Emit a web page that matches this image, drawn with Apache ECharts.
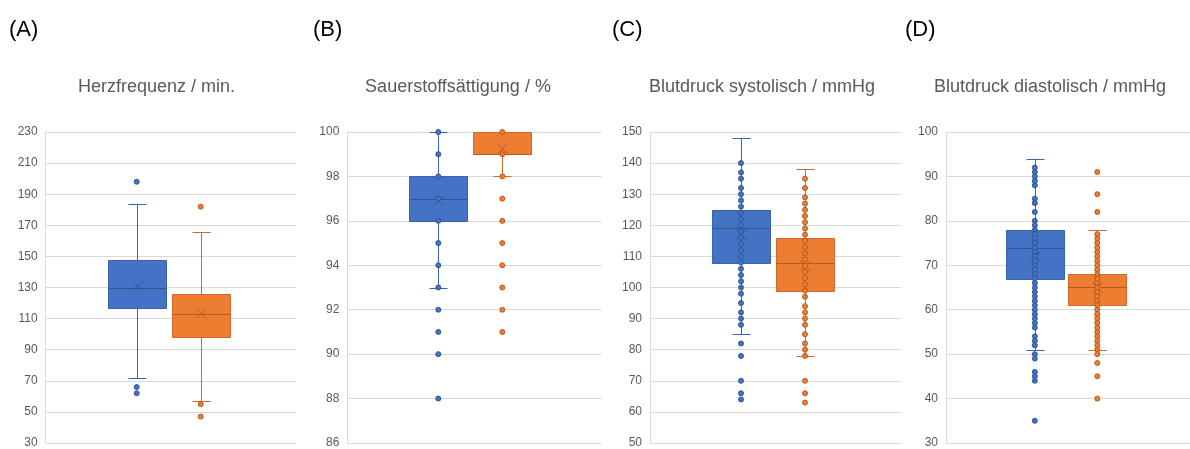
<!DOCTYPE html>
<html><head><meta charset="utf-8">
<script src="https://cdn.jsdelivr.net/npm/echarts@6/dist/echarts.min.js"></script>
<style>html,body{margin:0;padding:0;background:#fff}#c{width:1190px;height:449px}</style>
</head><body><div id="c"></div><script>
// ---------- Data ----------
// Box order: [min (lower whisker), Q1, median, Q3, max (upper whisker)]
// (A) Herzfrequenz / min.
const hrBlueBox = [72, 117, 130, 148, 184];
const hrBlueMean = 131;
const hrBluePoints = [198, 66, 62];
const hrOrangeBox = [57, 98, 113, 126, 166];
const hrOrangeMean = 113;
const hrOrangePoints = [182, 55, 47];
const hrAxis = [30, 230, 20];

// (B) Sauerstoffsättigung / %
const spoBlueBox = [93, 96, 97, 98, 100];
const spoBlueMean = 96.9;
const spoBluePoints = [100, 99, 98, 97, 96, 95, 94, 93, 92, 91, 90, 88];
const spoOrangeBox = [98, 99, 99, 100, 100];
const spoOrangeMean = 99.25;
const spoOrangePoints = [100, 99, 98, 97, 96, 95, 94, 93, 92, 91];
const spoAxis = [86, 100, 2];

// (C) Blutdruck systolisch / mmHg
const sysBlueBox = [85, 108, 119, 125, 148];
const sysBlueMean = 117;
const sysBluePoints = [140, 137, 135, 132, 130, 128, 126, 124, 122, 120, 118, 116, 114, 112, 110, 108,
  106, 104, 102, 100, 98, 95, 92, 90, 88, 82, 78, 70, 66, 64];
const sysOrangeBox = [78, 99, 108, 116, 138];
const sysOrangeMean = 107;
const sysOrangePoints = [135, 132, 129, 127, 125, 123, 121, 119, 117, 115, 113, 111, 109, 107, 105, 103,
  101, 99, 97, 94, 92, 90, 88, 85, 82, 80, 78, 70, 66, 63];
const sysAxis = [50, 150, 10];

// (D) Blutdruck diastolisch / mmHg
const diaBlueBox = [51, 67, 74, 78, 94];
const diaBlueMean = 72;
const diaBluePoints = [92, 91, 90, 89, 88, 85, 84, 82, 80, 79, 78, 77, 76, 75, 74, 73, 72, 71, 70, 69, 68,
  67, 66, 65, 64, 63, 62, 61, 60, 59, 58, 57, 56, 54, 53, 52, 50, 49, 46, 45, 44, 35];
const diaOrangeBox = [51, 61, 65, 68, 78];
const diaOrangeMean = 65;
const diaOrangePoints = [91, 86, 82, 77, 76, 75, 74, 73, 72, 71, 70, 69, 68, 67, 66, 65, 64, 63, 62, 61,
  60, 59, 58, 57, 56, 55, 54, 53, 52, 51, 50, 48, 45, 40];
const diaAxis = [30, 100, 10];

const panelLetters = ['(A)', '(B)', '(C)', '(D)'];
const panelTitles = ['Herzfrequenz / min.', 'Sauerstoffsättigung / %', 'Blutdruck systolisch / mmHg', 'Blutdruck diastolisch / mmHg'];

// ---------- Layout / styles ----------
const FONT = '"Liberation Sans", Arial, sans-serif';
const gridLefts = [45.7, 347.3, 650, 946];
const gridWidths = [250.3, 254.2, 251.5, 250];
const titleCenters = [156.5, 458, 762, 1050];
const letterLefts = [9, 313, 612, 905];
const UNIT = 64;          // px between the two boxes
const FIRST = 91;         // px from grid left to first box center
const fills = ['#4472C4', '#ED7D31'];
const lines = ['#3A63AC', '#D0692A'];
const dark = ['#2F5597', '#B85A1E'];

const panels = [
  {boxes: [hrBlueBox, hrOrangeBox], means: [hrBlueMean, hrOrangeMean], pts: [hrBluePoints, hrOrangePoints], axis: hrAxis},
  {boxes: [spoBlueBox, spoOrangeBox], means: [spoBlueMean, spoOrangeMean], pts: [spoBluePoints, spoOrangePoints], axis: spoAxis},
  {boxes: [sysBlueBox, sysOrangeBox], means: [sysBlueMean, sysOrangeMean], pts: [sysBluePoints, sysOrangePoints], axis: sysAxis},
  {boxes: [diaBlueBox, diaOrangeBox], means: [diaBlueMean, diaOrangeMean], pts: [diaBluePoints, diaOrangePoints], axis: diaAxis}
];

function renderBox(params, api) {
  const i = params.dataIndex;
  const x = api.value(0);
  const v = [1, 2, 3, 4, 5, 6].map(k => api.value(k));
  const p = v.map(val => api.coord([x, val]));
  const cx = Math.round(p[0][0]) + 0.5;
  const hw = 29, cap = 9, xs = 5;
  const ln = {stroke: lines[i], lineWidth: 1};
  const rnd = y => Math.round(y) + 0.5;
  return {
    type: 'group',
    children: [
      {type: 'line', shape: {x1: cx, y1: rnd(p[4][1]), x2: cx, y2: rnd(p[3][1])}, style: ln},
      {type: 'line', shape: {x1: cx, y1: rnd(p[1][1]), x2: cx, y2: rnd(p[0][1])}, style: ln},
      {type: 'line', shape: {x1: cx - cap, y1: rnd(p[4][1]), x2: cx + cap, y2: rnd(p[4][1])}, style: ln},
      {type: 'line', shape: {x1: cx - cap, y1: rnd(p[0][1]), x2: cx + cap, y2: rnd(p[0][1])}, style: ln},
      {type: 'rect', shape: {x: cx - hw, y: rnd(p[3][1]), width: 2 * hw, height: rnd(p[1][1]) - rnd(p[3][1])},
        style: {fill: fills[i], stroke: lines[i], lineWidth: 1}},
      {type: 'line', shape: {x1: cx - hw, y1: rnd(p[2][1]), x2: cx + hw, y2: rnd(p[2][1])}, style: {stroke: dark[i], lineWidth: 1}},
      {type: 'line', z2: 20, shape: {x1: cx - xs, y1: p[5][1] - xs, x2: cx + xs, y2: p[5][1] + xs}, style: {stroke: dark[i], lineWidth: 1}},
      {type: 'line', z2: 20, shape: {x1: cx - xs, y1: p[5][1] + xs, x2: cx + xs, y2: p[5][1] - xs}, style: {stroke: dark[i], lineWidth: 1}}
    ]
  };
}

const grid = [], xAxis = [], yAxis = [], series = [], title = [];
panels.forEach((pn, k) => {
  grid.push({left: gridLefts[k], width: gridWidths[k], top: 132, height: 312, containLabel: false});
  const xmin = 1 - FIRST / UNIT;
  xAxis.push({type: 'value', gridIndex: k, min: xmin, max: xmin + gridWidths[k] / UNIT, show: false});
  yAxis.push({
    type: 'value', gridIndex: k, min: pn.axis[0], max: pn.axis[1], interval: pn.axis[2],
    position: 'left',
    axisLine: {show: true, onZero: false, lineStyle: {color: '#D9D9D9'}},
    axisTick: {show: false},
    axisLabel: {color: '#595959', fontSize: 12, fontFamily: FONT, margin: 8},
    splitLine: {lineStyle: {color: '#D9D9D9', width: 1}}
  });
  series.push({
    type: 'custom', xAxisIndex: k, yAxisIndex: k, renderItem: renderBox, z: 2, silent: true,
    data: pn.boxes.map((b, j) => [j + 1, ...b, pn.means[j]])
  });
  pn.pts.forEach((arr, j) => {
    series.push({
      type: 'scatter', xAxisIndex: k, yAxisIndex: k, z: 3, silent: true,
      symbol: 'circle', symbolSize: 5,
      itemStyle: {color: fills[j], borderColor: dark[j], borderWidth: 1, opacity: 1},
      data: arr.map(v => [j + 1, v])
    });
  });
  title.push({text: panelLetters[k], left: letterLefts[k], top: 19, padding: 0,
    textStyle: {fontFamily: FONT, fontSize: 22, fontWeight: 'normal', color: '#000'}});
  title.push({text: panelTitles[k], left: titleCenters[k], top: 78, padding: 0, textAlign: 'center',
    textStyle: {fontFamily: FONT, fontSize: 18, fontWeight: 'normal', color: '#595959'}});
});

const chart = echarts.init(document.getElementById('c'), null, {renderer: 'canvas'});
chart.setOption({backgroundColor: '#fff', animation: false, title, grid, xAxis, yAxis, series});
</script></body></html>
